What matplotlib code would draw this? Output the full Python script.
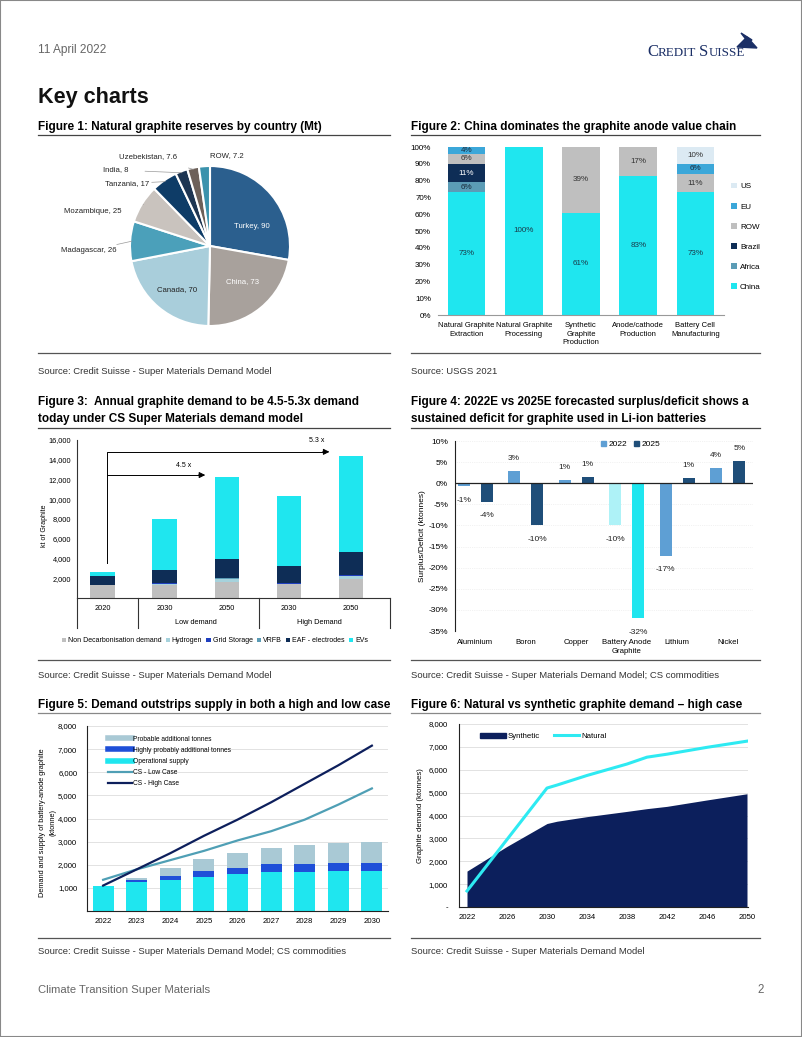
import matplotlib.pyplot as plt
from matplotlib.lines import Line2D
from matplotlib.patches import Patch, Rectangle, Polygon
from matplotlib.transforms import blended_transform_factory
import numpy as np

plt.rcParams['font.family'] = ['Liberation Sans', 'DejaVu Sans']

# ---------------- data ----------------
# Figure 1: reserves (Mt)
pie_labels = ['Turkey', 'China', 'Canada', 'Madagascar', 'Mozambique',
              'Tanzania', 'India', 'Uzebekistan', 'ROW']
pie_values = [90, 73, 70, 26, 25, 17, 8, 7.6, 7.2]

# Figure 2: value chain shares (%)
stages = ['Natural Graphite\nExtraction', 'Natural Graphite\nProcessing',
          'Synthetic\nGraphite\nProduction', 'Anode/cathode\nProduction',
          'Battery Cell\nManufacturing']
share_china = [73, 100, 61, 83, 73]
share_africa = [6, 0, 0, 0, 0]
share_brazil = [11, 0, 0, 0, 0]
share_row = [6, 0, 39, 17, 11]
share_eu = [4, 0, 0, 0, 6]
share_us = [0, 0, 0, 0, 10]

# Figure 3: annual demand (kt)
demand_years = ['2020', '2030', '2050', '2030', '2050']
demand_groups = ['Low demand', 'High Demand']
multiples = ['4.5 x', '5.3 x']
non_decarb = [1300, 1350, 1650, 1400, 1950]
hydrogen = [0, 50, 250, 50, 250]
grid_storage = [20, 100, 60, 100, 80]
vrfb = [0, 0, 20, 0, 20]
eaf = [950, 1350, 1920, 1650, 2400]
evs = [400, 5100, 8400, 7100, 9700]

# Figure 4: surplus/deficit (%)
metals = ['Aluminium', 'Boron', 'Copper', 'Battery Anode\nGraphite', 'Lithium', 'Nickel']
bal_2022 = [-0.7, 2.8, 0.7, -10.0, -17.2, 3.6]
bal_2025 = [-4.4, -10.0, 1.4, -32.0, 1.3, 5.3]

# Figure 5: supply vs demand (kt)
years5 = [2022, 2023, 2024, 2025, 2026, 2027, 2028, 2029, 2030]
operational = [1100, 1270, 1340, 1470, 1600, 1680, 1690, 1720, 1740]
highly_prob = [0, 70, 170, 260, 260, 350, 340, 350, 330]
probable = [0, 90, 350, 520, 650, 690, 820, 870, 920]
low_case = [1350, 1800, 2200, 2600, 3050, 3450, 3950, 4600, 5300]
high_case = [1100, 1800, 2500, 3250, 3950, 4700, 5500, 6300, 7150]

# Figure 6: natural vs synthetic (kt)
years6 = [2022, 2026, 2030, 2031, 2034, 2038, 2040, 2042, 2046, 2050]
synthetic = [1570, 2650, 3650, 3750, 3950, 4180, 4300, 4400, 4680, 4950]
natural = [700, 2950, 5200, 5330, 5750, 6250, 6550, 6680, 6980, 7250]

# ---------------- page ----------------
W, H = 802, 1037
fig = plt.figure(figsize=(W / 100, H / 100), dpi=100)

def box(l, t, r, b):
    return [l / W, 1 - b / H, (r - l) / W, (b - t) / H]

def ftext(x, y, s, **kw):
    kw.setdefault('va', 'center')
    return fig.text(x / W, 1 - y / H, s, **kw)

def hline(x0, x1, y, color='#444444', lw=0.9):
    fig.add_artist(Line2D([x0 / W, x1 / W], [1 - y / H, 1 - y / H], color=color, lw=lw))

fig.add_artist(Rectangle((0, 0), 1, 1, transform=fig.transFigure, fill=False,
                         edgecolor='#888888', lw=1.5))

GREY = '#666666'
NAVY = '#1b2f66'
ftext(38, 50, '11 April 2022', fontsize=8.6, color=GREY)

# logo text in small caps, built piece by piece
renderer = fig.canvas.get_renderer()
xpos = 647
for part, big in [('C', True), ('REDIT', False), (' ', False), ('S', True), ('UISSE', False)]:
    t = fig.text(xpos / W, 1 - 56 / H, part, fontsize=12 if big else 9.4, color=NAVY,
                 family='Liberation Serif', va='baseline')
    xpos += t.get_window_extent(renderer).width if part != ' ' else 3
fig.add_artist(Polygon([[737 / W, 1 - 47 / H], [747 / W, 1 - 37 / H], [757 / W, 1 - 48 / H]],
                       closed=True, color=NAVY, transform=fig.transFigure))
fig.add_artist(Polygon([[741 / W, 1 - 33 / H], [752 / W, 1 - 40 / H], [748 / W, 1 - 42 / H]],
                       closed=True, color=NAVY, transform=fig.transFigure))

ftext(38, 98, 'Key charts', fontsize=15.6, fontweight='bold', color='#111111')
ftext(38, 990, 'Climate Transition Super Materials', fontsize=8.1, color=GREY)
ftext(764, 990, '2', fontsize=8.3, color=GREY, ha='right')

TS = 8.45
SS = 6.8
SC = '#333333'
ftext(38, 127, 'Figure 1: Natural graphite reserves by country (Mt)', fontsize=TS, fontweight='bold')
hline(38, 390, 135)
ftext(411, 127, 'Figure 2: China dominates the graphite anode value chain', fontsize=TS, fontweight='bold')
hline(411, 760, 135)
hline(38, 390, 353, color='#555555')
ftext(38, 371, 'Source: Credit Suisse - Super Materials Demand Model', fontsize=SS, color=SC)
hline(411, 760, 353, color='#555555')
ftext(411, 371, 'Source: USGS 2021', fontsize=SS, color=SC)

ftext(38, 402, 'Figure 3:  Annual graphite demand to be 4.5-5.3x demand', fontsize=TS, fontweight='bold')
ftext(38, 419, 'today under CS Super Materials demand model', fontsize=TS, fontweight='bold')
hline(38, 390, 428)
ftext(411, 402, 'Figure 4: 2022E vs 2025E forecasted surplus/deficit shows a', fontsize=TS, fontweight='bold')
ftext(411, 419, 'sustained deficit for graphite used in Li-ion batteries', fontsize=TS, fontweight='bold')
hline(411, 760, 428)
hline(38, 390, 660, color='#555555')
ftext(38, 675, 'Source: Credit Suisse - Super Materials Demand Model', fontsize=SS, color=SC)
hline(411, 760, 660, color='#555555')
ftext(411, 675, 'Source: Credit Suisse - Super Materials Demand Model; CS commodities', fontsize=SS, color=SC)

ftext(38, 705, 'Figure 5: Demand outstrips supply in both a high and low case', fontsize=TS, fontweight='bold')
hline(38, 390, 713, color='#888888')
ftext(411, 705, 'Figure 6: Natural vs synthetic graphite demand \u2013 high case', fontsize=TS, fontweight='bold')
hline(411, 760, 713, color='#888888')
hline(38, 390, 938, color='#555555')
ftext(38, 952, 'Source: Credit Suisse - Super Materials Demand Model; CS commodities', fontsize=SS, color=SC)
hline(411, 760, 938, color='#555555')
ftext(411, 952, 'Source: Credit Suisse - Super Materials Demand Model', fontsize=SS, color=SC)

# ---------------- Figure 1: pie ----------------
ax1 = fig.add_axes(box(130, 166, 290, 326))
pie_colors = ['#2b5f8e', '#a8a19c', '#a9cedb', '#4ba0ba', '#c9c3be',
              '#0e3c67', '#1d3552', '#6d6059', '#3b92ac']
wedges, _ = ax1.pie(pie_values, startangle=90, counterclock=False, colors=pie_colors,
                    wedgeprops=dict(edgecolor='white', linewidth=1.5))
ax1.set_aspect('equal')
ax1.set_xlim(-1, 1)
ax1.set_ylim(-1, 1)
inside = {'Turkey': ((0.52, 0.25), 'white'), 'China': ((0.40, -0.44), 'white'),
          'Canada': ((-0.41, -0.55), '#222222')}
outside = {'Madagascar': (-1.52, -0.06), 'Mozambique': (-1.47, 0.43),
           'Tanzania': (-1.04, 0.78), 'India': (-1.18, 0.95),
           'Uzebekistan': (-0.78, 1.12), 'ROW': (0.21, 1.13)}
for w, lab, v in zip(wedges, pie_labels, pie_values):
    s = f'{lab}, {v:g}'
    if lab in inside:
        pos, c = inside[lab]
        ax1.text(pos[0], pos[1], s, ha='center', va='center', fontsize=5.6, color=c)
    else:
        ang = np.deg2rad((w.theta1 + w.theta2) / 2)
        tip = (np.cos(ang) * 0.98, np.sin(ang) * 0.98)
        tx, ty = outside[lab]
        if lab == 'ROW':
            ax1.text(tx, ty, s, ha='center', va='center', fontsize=5.6, color='#222222')
            continue
        ax1.annotate(s, xy=tip, xytext=(tx, ty), ha='center', va='center', fontsize=5.6,
                     color='#222222',
                     arrowprops=dict(arrowstyle='-', color='#999999', lw=0.5,
                                     shrinkA=14 if lab in ('Madagascar', 'Mozambique', 'Uzebekistan') else 10,
                                     shrinkB=0))

# ---------------- Figure 2: stacked 100% ----------------
ax2 = fig.add_axes(box(438, 147, 724, 315))
x2 = np.arange(len(stages))
series2 = [('China', share_china, '#1fe6ef', '#1a3a4a'),
           ('Africa', share_africa, '#5b9cb6', '#1a2a3a'),
           ('Brazil', share_brazil, '#0e2d56', 'white'),
           ('ROW', share_row, '#bfbfbf', '#333333'),
           ('EU', share_eu, '#3ba7d9', '#1a2a3a'),
           ('US', share_us, '#dceaf3', '#333333')]
bottom = np.zeros(len(stages))
handles2 = []
for name, vals, col, tcol in series2:
    vals = np.array(vals, float)
    b = ax2.bar(x2, vals, 0.66, bottom=bottom, color=col, label=name)
    handles2.append(b)
    for xi, b0, v in zip(x2, bottom, vals):
        if v > 0:
            ax2.text(xi, b0 + v / 2, f'{v:.0f}%', ha='center', va='center', fontsize=5.8, color=tcol)
    bottom += vals
ax2.set_xlim(-0.5, 4.5)
ax2.set_ylim(0, 100)
ax2.set_yticks(range(0, 101, 10))
ax2.set_yticklabels([f'{t}%' for t in range(0, 101, 10)], fontsize=5.8)
ax2.set_xticks(x2)
ax2.set_xticklabels(stages, fontsize=5.5, linespacing=1.35)
ax2.tick_params(length=0, pad=5)
for s in ['top', 'right', 'left']:
    ax2.spines[s].set_visible(False)
ax2.spines['bottom'].set_color('#999999')
ax2.legend(handles2[::-1], [s[0] for s in series2][::-1], loc='upper left',
           bbox_to_anchor=(1.0, 0.83), frameon=False, fontsize=5.8,
           handlelength=0.7, handleheight=0.7, handletextpad=0.4, labelspacing=1.55)

# ---------------- Figure 3: stacked demand ----------------
ax3 = fig.add_axes(box(77, 440, 390, 598))
x3 = np.arange(len(demand_years))
series3 = [('Non Decarbonisation demand', non_decarb, '#bfbfbf'),
           ('Hydrogen', hydrogen, '#a6d2dc'),
           ('Grid Storage', grid_storage, '#1f3fbf'),
           ('VRFB', vrfb, '#5b9cb6'),
           ('EAF - electrodes', eaf, '#0e2d56'),
           ('EVs', evs, '#1fe6ef')]
bottom = np.zeros(len(x3))
for name, vals, col in series3:
    ax3.bar(x3, vals, 0.39, bottom=bottom, color=col, label=name)
    bottom += np.array(vals, float)
totals = bottom
ax3.set_xlim(-0.41, 4.63)
ax3.set_ylim(0, 16000)
ax3.set_yticks(range(2000, 16001, 2000))
ax3.set_yticklabels([f'{t:,}' for t in range(2000, 16001, 2000)], fontsize=5.3)
ax3.set_xticks([])
ax3.tick_params(length=0, pad=4)
for s in ['top', 'right']:
    ax3.spines[s].set_visible(False)
ax3.spines['left'].set_color('#333333')
ax3.spines['bottom'].set_color('#333333')
ax3.set_ylabel('kt of Graphite', fontsize=5)
ax3.yaxis.set_label_coords(-0.092, 0.46)
tr3 = blended_transform_factory(ax3.transData, ax3.transAxes)
for xs in [-0.41, 0.58, 2.52, 4.63]:
    ax3.plot([xs, xs], [0, -0.19], transform=tr3, color='#333333', lw=0.8, clip_on=False)
for xi, lab in zip(x3, demand_years):
    ax3.text(xi, -0.065, lab, transform=tr3, ha='center', va='center', fontsize=5.3)
for xc, lab in zip([1.5, 3.5], demand_groups):
    ax3.text(xc, -0.155, lab, transform=tr3, ha='center', va='center', fontsize=5.3)
# multiples arrows
x_start = 0.08
y_low = totals[2] + 150
y_high = totals[4] + 400
ax3.plot([x_start, x_start, 3.55], [totals[0] + 900, y_high, y_high], color='black', lw=0.7)
ax3.plot([x_start, 1.55], [y_low, y_low], color='black', lw=0.7)
for xe, ye in [(3.7, y_high), (1.7, y_low)]:
    ax3.annotate('', xy=(xe, ye), xytext=(xe - 0.2, ye),
                 arrowprops=dict(arrowstyle='-|>', color='black', lw=0.7, mutation_scale=9))
ax3.text(1.3, y_low + 1000, multiples[0], fontsize=5, ha='center', va='center')
ax3.text(3.45, y_high + 1200, multiples[1], fontsize=5, ha='center', va='center')
fig.legend(*ax3.get_legend_handles_labels(), loc='center', bbox_to_anchor=(215 / W, 1 - 641 / H),
           ncol=6, frameon=False, fontsize=5, handlelength=0.6, handleheight=0.6,
           handletextpad=0.3, columnspacing=0.6)

# ---------------- Figure 4: surplus/deficit ----------------
ax4 = fig.add_axes(box(455, 441, 753, 631))
x4 = np.arange(len(metals))
hi = metals.index('Battery Anode\nGraphite')
c22 = ['#aef2f7' if i == hi else '#5e9fd4' for i in x4]
c25 = ['#1fe6ef' if i == hi else '#1f4e79' for i in x4]
ax4.bar(x4 - 0.23, bal_2022, 0.24, color=c22, label='2022')
ax4.bar(x4 + 0.23, bal_2025, 0.24, color=c25, label='2025')
for xs, vals in [(x4 - 0.23, bal_2022), (x4 + 0.23, bal_2025)]:
    for xi, v in zip(xs, vals):
        off = 9 if v >= 0 else -10
        ax4.annotate(f'{round(v):d}%', (xi, v), xytext=(0, off), textcoords='offset points',
                     ha='center', va='center', fontsize=6, color='#222222')
ax4.axhline(0, color='#222222', lw=0.9)
ax4.set_xlim(-0.4, 5.5)
ax4.set_ylim(-35, 10)
ax4.set_yticks(range(-35, 11, 5))
ax4.set_yticklabels([f'{t}%' for t in range(-35, 11, 5)], fontsize=6)
ax4.set_xticks(x4)
ax4.set_xticklabels(metals, fontsize=5.6, linespacing=1.3)
ax4.tick_params(length=0, pad=6)
ax4.tick_params(axis='y', pad=5)
ax4.yaxis.grid(True, color='#e6e6e6', lw=0.5, ls=':')
ax4.set_axisbelow(True)
for s in ['top', 'right', 'bottom']:
    ax4.spines[s].set_visible(False)
ax4.spines['left'].set_color('#222222')
ax4.set_ylabel('Surplus/Deficit (ktonnes)', fontsize=6, labelpad=2)
ax4.legend(handles=[Patch(color='#5e9fd4'), Patch(color='#1f4e79')], labels=['2022', '2025'],
           loc='upper center', bbox_to_anchor=(0.59, 1.04), ncol=2, frameon=False,
           fontsize=6, handlelength=0.6, handleheight=0.6, handletextpad=0.3, columnspacing=0.8)

# ---------------- Figure 5: supply vs demand ----------------
ax5 = fig.add_axes(box(87, 726, 388, 911))
x5 = np.arange(len(years5))
b1 = np.array(operational, float)
b2 = b1 + np.array(highly_prob, float)
ax5.bar(x5, operational, 0.63, color='#1fe6ef', zorder=2)
ax5.bar(x5, highly_prob, 0.63, bottom=b1, color='#1f4fd8', zorder=2)
ax5.bar(x5, probable, 0.63, bottom=b2, color='#a9c9d5', zorder=2)
ax5.plot(x5, low_case, color='#4f9fb5', lw=1.6, zorder=3)
ax5.plot(x5, high_case, color='#0d1f5c', lw=1.6, zorder=3)
ax5.set_xlim(-0.48, 8.48)
ax5.set_ylim(0, 8000)
ax5.set_yticks(range(1000, 8001, 1000))
ax5.set_yticklabels([f'{t:,}' for t in range(1000, 8001, 1000)], fontsize=5.6)
ax5.set_xticks(x5)
ax5.set_xticklabels([str(y) for y in years5], fontsize=5.6)
ax5.tick_params(length=0, pad=5)
ax5.tick_params(axis='y', pad=7)
ax5.yaxis.grid(True, color='#dddddd', lw=0.6)
ax5.set_axisbelow(True)
for s in ['top', 'right']:
    ax5.spines[s].set_visible(False)
ax5.spines['left'].set_color('#222222')
ax5.spines['bottom'].set_color('#222222')
ax5.set_ylabel('Demand and supply of battery-anode graphite\n(ktonne)', fontsize=5.3,
               linespacing=1.6)
ax5.yaxis.set_label_coords(-0.102, 0.48)
h5 = [Line2D([], [], color='#a9c9d5', lw=4), Line2D([], [], color='#1f4fd8', lw=4),
      Line2D([], [], color='#1fe6ef', lw=4), Line2D([], [], color='#4f9fb5', lw=1.6),
      Line2D([], [], color='#0d1f5c', lw=1.6)]
l5 = ['Probable additional tonnes', 'Highly probably additional tonnes', 'Operational supply',
      'CS - Low Case', 'CS - High Case']
ax5.legend(h5, l5, loc='upper left', bbox_to_anchor=(0.05, 0.98), frameon=False, fontsize=4.8,
           handlelength=3.6, handletextpad=0.2, labelspacing=0.62)

# ---------------- Figure 6: natural vs synthetic ----------------
ax6 = fig.add_axes(box(459, 724, 748, 907))
ax6.fill_between(years6, synthetic, color='#0c1f5c', lw=0, zorder=2)
ax6.plot(years6, natural, color='#2eeaf2', lw=2.2, zorder=3)
ax6.set_xlim(2021.2, 2050.1)
ax6.set_ylim(0, 8000)
ax6.set_yticks(range(0, 8001, 1000))
ax6.set_yticklabels(['-'] + [f'{t:,}' for t in range(1000, 8001, 1000)], fontsize=5.6)
ax6.set_xticks(range(2022, 2051, 4))
ax6.set_xticklabels([str(y) for y in range(2022, 2051, 4)], fontsize=5.6)
ax6.tick_params(length=0, pad=5)
ax6.tick_params(axis='y', pad=8)
ax6.yaxis.grid(True, color='#dddddd', lw=0.6)
ax6.set_axisbelow(True)
for s in ['top', 'right']:
    ax6.spines[s].set_visible(False)
ax6.spines['left'].set_color('#222222')
ax6.spines['bottom'].set_color('#222222')
ax6.set_ylabel('Graphite demand (ktonnes)', fontsize=5.6, labelpad=3)
ax6.legend([Patch(color='#0c1f5c'), Line2D([], [], color='#2eeaf2', lw=2.2)],
           ['Synthetic', 'Natural'], loc='upper left', bbox_to_anchor=(0.05, 0.99), ncol=2,
           frameon=False, fontsize=5.6, handlelength=3.3, handleheight=0.6,
           handletextpad=0.2, columnspacing=1.8)

fig.savefig('out.png', dpi=100)
